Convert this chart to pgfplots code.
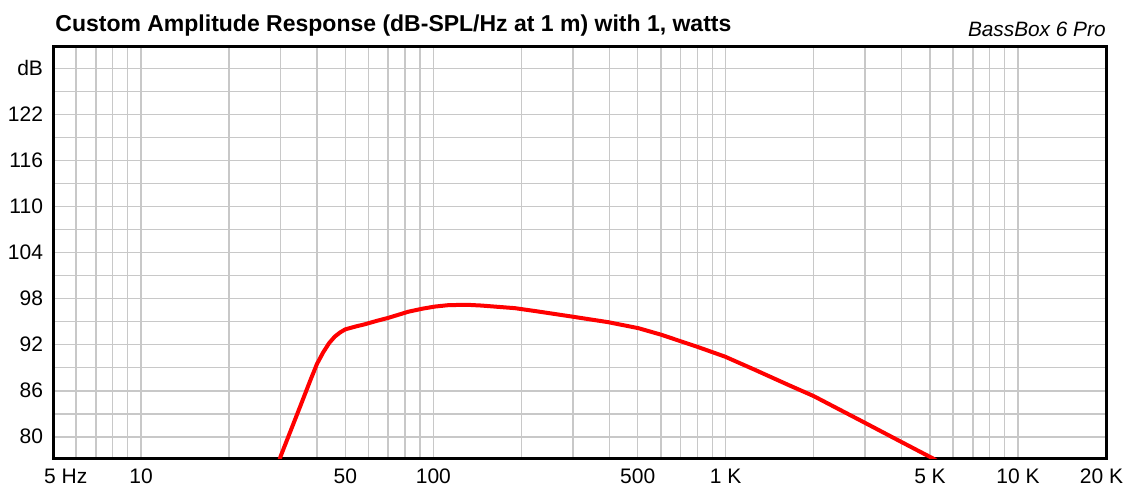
\documentclass[border=0pt]{standalone}
\usepackage{pgfplots}
\pgfplotsset{compat=1.18}
\usepackage{fontspec}
\setmainfont{Liberation Sans}
\definecolor{gridc}{RGB}{200,200,200}
\begin{document}
\begin{tikzpicture}
\begin{axis}[
  at={(0,0)}, anchor=south west,
  scale only axis, width=526.5pt, height=206pt,
  xmode=log, log basis x=10,
  xmin=5, xmax=20000, ymin=77.1, ymax=130.8,
  xtick={5,10,50,100,500,1000,5000,10000,20000},
  xticklabels={{\hspace*{12.8pt}5 Hz},10,50,100,500,1 K,5 K,10 K,{20 K\hspace*{4.5pt}}},
  minor xtick={6,7,8,9,20,30,40,60,70,80,90,200,300,400,600,700,800,900,2000,3000,4000,6000,7000,8000,9000},
  ytick={80,86,92,98,104,110,116,122,128},
  yticklabels={80,86,92,98,104,110,116,122,dB},
  minor ytick={83,89,95,101,107,113,119,125},
  grid=both,
  grid style={gridc, line width=0.8pt},
  minor grid style={gridc, line width=0.8pt},
  major grid style={gridc, line width=0.8pt},
  major tick length=0pt, minor tick length=0pt,
  axis line style={black, line width=1.5pt},
  tick label style={font=\fontsize{10.5}{12}\selectfont},
  yticklabel style={anchor=east, xshift=-1.5pt},
  xticklabel style={anchor=north, yshift=-1.5pt},
  clip=true,
]
\addplot[red, line width=2pt, line join=round] coordinates {
(29.8,77.0) (30,77.4) (35,83.9) (38,87.4) (40,89.5) (42,91.0) (44,92.2)
(46,93.05) (48,93.6) (50,94.0) (54,94.35)
(58.4,94.67) (64,95.1) (70.2,95.5) (82.2,96.3) (92,96.7) (101.4,96.97) (112.5,97.15) (130,97.2)
(146,97.1) (190,96.76) (228.7,96.32) (297,95.67) (397,94.93) (503,94.15)
(604,93.28) (707,92.4) (807,91.67) (995,90.44) (1261,88.71) (1639,86.75)
(2000,85.3) (3000,81.8) (4000,79.3) (5100,77.2) (5250,76.9)
};
\coordinate (bl) at (rel axis cs:0,0);
\coordinate (tr) at (rel axis cs:1,1);
\end{axis}
\node[anchor=base west, font=\fontsize{11.5}{13}\bfseries, inner sep=0pt] at ([xshift=1pt, yshift=7.6pt]bl |- tr) {Custom Amplitude Response (dB-SPL/Hz at 1 m) with 1, watts};
\node[anchor=base east, font=\fontsize{10.4}{12}\itshape, inner sep=0pt] at ([yshift=5.1pt]tr) {BassBox 6 Pro};
\pgfresetboundingbox
\path ([xshift=-26.5pt, yshift=-13.5pt]bl) rectangle ([xshift=10pt, yshift=23.5pt]tr);
\end{tikzpicture}
\end{document}
